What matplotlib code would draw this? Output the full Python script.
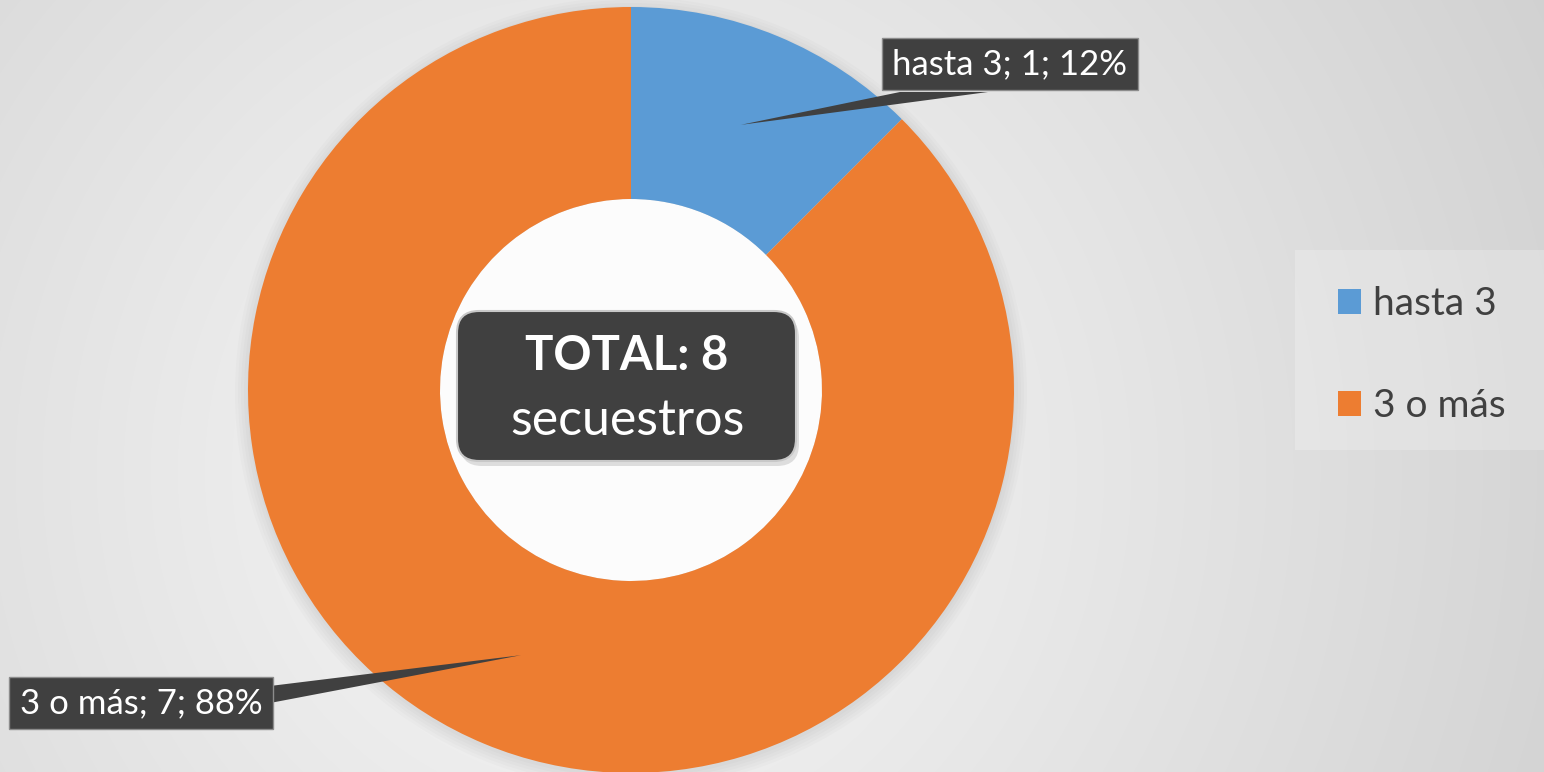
import numpy as np
import matplotlib.pyplot as plt
from matplotlib.patches import Polygon, FancyBboxPatch, Rectangle

# data
labels = ['hasta 3', '3 o más']
values = [1, 7]
colors = ['#5B9BD5', '#ED7D31']
total_text = 'TOTAL: 8'
unit_text = 'secuestros'

W, H = 1544, 772
plt.rcParams['font.family'] = ['Lato', 'DejaVu Sans']

fig = plt.figure(figsize=(15.44, 7.72), dpi=100)
ax = fig.add_axes([0, 0, 1, 1])

# soft grey radial background
xx, yy = np.meshgrid(np.arange(W), np.arange(H))
dist = np.hypot(xx - 600, yy - 300)
bg = np.clip(0.975 - 1.45e-4 * dist, 0, 1)
ax.imshow(np.dstack([bg, bg, bg]), extent=(0, W, H, 0), origin='upper', zorder=0)

cx, cy, R = 631, H - 390, 383
ring = 192

# faint shadow behind the ring
for k in range(5):
    ax.add_patch(plt.Circle((cx, cy - 3), R + 1 + 3 * k, color='k', alpha=0.015, lw=0, zorder=1))
ax.add_patch(plt.Circle((cx, cy), R - ring, color='#fcfcfc', lw=0, zorder=1.5))

wedges, _ = ax.pie(values, colors=colors, startangle=90, counterclock=False,
                   radius=R, center=(cx, cy), wedgeprops=dict(width=ring, linewidth=0))
for w in wedges:
    w.set_zorder(2)

# data labels with callouts
total = sum(values)
label_pos = [(1010, H - 64), (141, H - 703)]
bases = [[(900, H - 92), (988, H - 92)], [(270, H - 686), (270, H - 703)]]
for w, lab, v, pos, base in zip(wedges, labels, values, label_pos, bases):
    mid = np.deg2rad((w.theta1 + w.theta2) / 2)
    r = R - ring / 2
    px, py = cx + r * np.cos(mid), cy + r * np.sin(mid)
    ax.add_patch(Polygon([(px, py)] + base, closed=True, fc='#404040', ec='none', zorder=3))
    pct = round(100 * v / total)
    ax.text(pos[0], pos[1], f'{lab}; {v}; {pct}%', color='white', fontsize=25,
            ha='center', va='center', zorder=4,
            bbox=dict(boxstyle='square,pad=0.3', fc='#404040', ec='#8c8c8c', lw=1))

# centre box
ax.add_patch(FancyBboxPatch((460, H - 466), 339, 150, boxstyle='round,pad=0,rounding_size=22',
                            fc='k', ec='none', alpha=0.12, zorder=3))
ax.add_patch(FancyBboxPatch((457, H - 461), 339, 150, boxstyle='round,pad=0,rounding_size=22',
                            fc='#404040', ec='#c8c8c8', lw=1.5, zorder=4))
ax.text(627, H - 356, total_text, color='white', fontsize=34, fontweight='bold',
        ha='center', va='center', zorder=5)
ax.text(627, H - 421, unit_text, color='white', fontsize=36,
        ha='center', va='center', zorder=5)

# legend
ax.add_patch(Rectangle((1295, H - 450), 249, 200, fc='white', ec='none', alpha=0.22, zorder=1))
ax.legend(wedges, labels, loc='upper left', bbox_to_anchor=(1338 / W, 1 - 286 / H),
          frameon=False, fontsize=28, labelcolor='#404040', handlelength=0.6,
          handleheight=0.6, handletextpad=0.3, labelspacing=1.7,
          borderpad=0, borderaxespad=0)

ax.set_xlim(0, W)
ax.set_ylim(0, H)
ax.set_aspect('equal')
ax.axis('off')

plt.savefig('out.png', dpi=100)
